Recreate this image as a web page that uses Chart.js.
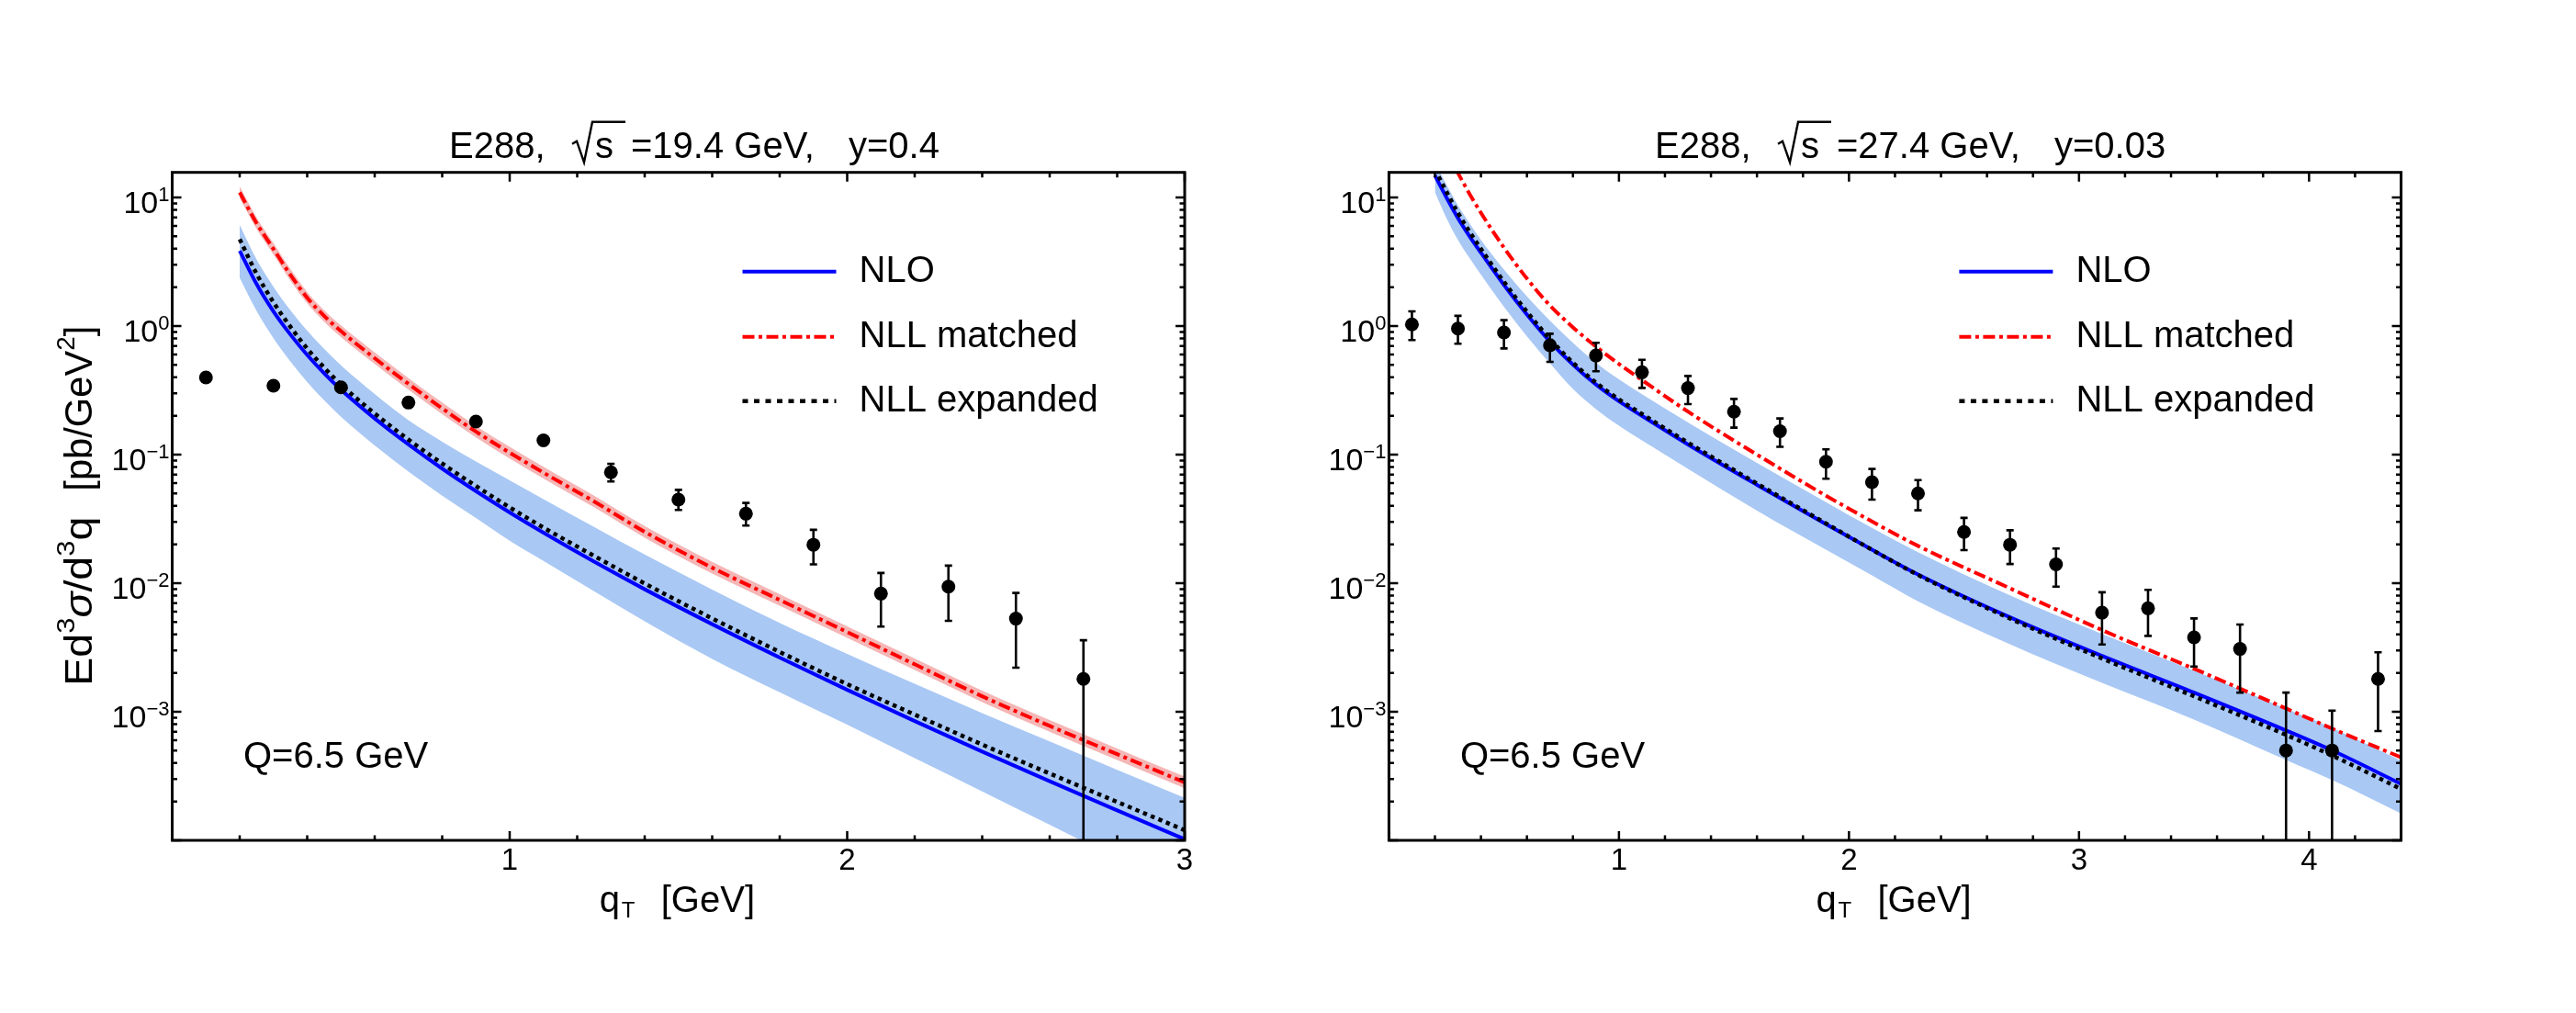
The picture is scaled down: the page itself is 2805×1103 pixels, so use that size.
<!DOCTYPE html>
<html>
<head>
<meta charset="utf-8">
<title>E288 q_T spectra</title>
<script src="https://cdn.jsdelivr.net/npm/chart.js@4.4.1/dist/chart.umd.min.js"></script>
<style>
  html, body { margin: 0; padding: 0; background: #fff; }
  #wrap { position: relative; width: 2805px; height: 1103px; background: #fff; }
  #wrap canvas { position: absolute; top: 0; }
</style>
</head>
<body>
<div id="wrap">
  <canvas id="left" width="1400" height="1103" style="left:0"></canvas>
  <canvas id="right" width="1405" height="1103" style="left:1400px"></canvas>
</div>
<script>
// ---- values ----

// left panel: sqrt(s) = 19.4 GeV, y = 0.4
const qtThL = [0.2, 0.25, 0.3, 0.35, 0.4, 0.45, 0.5, 0.6, 0.7, 0.8, 0.9, 1.0, 1.1, 1.25, 1.4, 1.6, 1.8, 2.0, 2.2, 2.4, 2.6, 2.8, 3.0];
const nloL    = [3.85, 2.12, 1.30, 0.861, 0.596, 0.430, 0.320, 0.191, 0.120, 0.0778, 0.0520, 0.0355, 0.0247, 0.0147, 0.00897, 0.00480, 0.00264, 0.00148, 8.47e-4, 4.90e-4, 2.88e-4, 1.71e-4, 1.02e-4];
const nloHiL  = [6.10, 3.29, 2.02, 1.33, 0.923, 0.665, 0.495, 0.296, 0.185, 0.126, 0.0883, 0.0631, 0.0450, 0.0274, 0.0167, 0.00893, 0.00491, 0.00282, 0.00165, 9.77e-4, 5.89e-4, 3.53e-4, 2.14e-4];
const nloLoL  = [2.37, 1.31, 0.804, 0.531, 0.367, 0.265, 0.197, 0.118, 0.0738, 0.0480, 0.0321, 0.0214, 0.0149, 0.00865, 0.00505, 0.00258, 0.00142, 7.94e-4, 4.35e-4, 2.40e-4, 1.32e-4, 7.29e-5, 4.27e-5];
const nllMatL   = [10.96, 6.31, 3.98, 2.51, 1.66, 1.20, 0.912, 0.562, 0.355, 0.229, 0.151, 0.1035, 0.0724, 0.0432, 0.0251, 0.0132, 0.00741, 0.00417, 0.00234, 0.00132, 7.76e-4, 4.68e-4, 2.82e-4];
const nllMatHiL = [12.16, 7.00, 4.41, 2.78, 1.84, 1.33, 1.011, 0.623, 0.394, 0.254, 0.167, 0.1148, 0.0803, 0.0479, 0.0278, 0.01464, 0.00822, 0.00462, 0.00260, 0.00146, 8.61e-4, 5.19e-4, 3.13e-4];
const nllMatLoL = [9.88, 5.69, 3.59, 2.26, 1.50, 1.08, 0.822, 0.507, 0.320, 0.206, 0.136, 0.0933, 0.0653, 0.0390, 0.0226, 0.0119, 0.00668, 0.00376, 0.00211, 0.00119, 7.00e-4, 4.22e-4, 2.54e-4];
const nllExpL   = [4.73, 2.55, 1.53, 0.989, 0.668, 0.476, 0.351, 0.209, 0.131, 0.0853, 0.0570, 0.0389, 0.0271, 0.0163, 0.00995, 0.00532, 0.00292, 0.00164, 9.51e-4, 5.56e-4, 3.31e-4, 1.99e-4, 1.20e-4];

const qtDataL  = [0.1, 0.3, 0.5, 0.7, 0.9, 1.1, 1.3, 1.5, 1.7, 1.9, 2.1, 2.3, 2.5, 2.7];
const sigmaL   = [0.398, 0.343, 0.334, 0.254, 0.181, 0.129, 0.0728, 0.0447, 0.0347, 0.0199, 0.0083, 0.0094, 0.0053, 0.0018];
const sigmaHiL = [0.41, 0.353, 0.344, 0.262, 0.187, 0.135, 0.0848, 0.0532, 0.0421, 0.0260, 0.0120, 0.0137, 0.0084, 0.0036];
const sigmaLoL = [0.386, 0.333, 0.324, 0.246, 0.175, 0.123, 0.0618, 0.0371, 0.0281, 0.0140, 0.0046, 0.0051, 0.0022, 1e-6];

// right panel: sqrt(s) = 27.4 GeV, y = 0.03
const qtThR = [0.2, 0.25, 0.3, 0.35, 0.4, 0.5, 0.6, 0.7, 0.8, 0.9, 1.0, 1.1, 1.3, 1.6, 1.9, 2.1, 2.3, 2.7, 3.1, 3.5, 3.9, 4.1, 4.4];
const nloR    = [14.8, 10.0, 6.92, 5.01, 3.72, 2.09, 1.23, 0.759, 0.501, 0.351, 0.260, 0.200, 0.120, 0.0582, 0.0288, 0.0182, 0.0117, 0.00543, 0.00272, 0.00141, 7.16e-4, 5.01e-4, 2.75e-4];
const nloHiR  = [18.6, 12.6, 8.71, 6.31, 4.68, 2.75, 1.70, 1.10, 0.741, 0.519, 0.385, 0.295, 0.178, 0.0861, 0.0427, 0.0269, 0.0174, 0.00804, 0.00403, 0.00209, 0.00106, 7.50e-4, 4.17e-4];
const nloLoR  = [11.0, 6.92, 4.68, 3.39, 2.51, 1.41, 0.832, 0.513, 0.324, 0.226, 0.168, 0.129, 0.0776, 0.0367, 0.0182, 0.0115, 0.00724, 0.00335, 0.00168, 8.71e-4, 4.22e-4, 2.95e-4, 1.62e-4];
const nllMatR = [35.5, 22.9, 15.5, 10.7, 7.59, 4.07, 2.34, 1.445, 0.977, 0.692, 0.507, 0.380, 0.216, 0.100, 0.0479, 0.0302, 0.0195, 0.00912, 0.00432, 0.00216, 0.00106, 7.41e-4, 4.42e-4];
const nllExpR = [16.6, 11.1, 7.59, 5.43, 3.98, 2.21, 1.29, 0.794, 0.519, 0.363, 0.269, 0.207, 0.124, 0.0596, 0.0292, 0.0182, 0.0116, 0.00531, 0.00260, 0.00132, 6.61e-4, 4.57e-4, 2.51e-4];

const qtDataR  = [0.1, 0.3, 0.5, 0.7, 0.9, 1.1, 1.3, 1.5, 1.7, 1.9, 2.1, 2.3, 2.5, 2.7, 2.9, 3.1, 3.3, 3.5, 3.7, 3.9, 4.1, 4.3];
const sigmaR   = [1.03, 0.957, 0.891, 0.708, 0.59, 0.437, 0.329, 0.216, 0.152, 0.088, 0.061, 0.0499, 0.025, 0.0199, 0.014, 0.0059, 0.00638, 0.00379, 0.00308, 0.0005, 0.0005, 0.0018];
const sigmaHiR = [1.30, 1.20, 1.11, 0.871, 0.74, 0.547, 0.409, 0.271, 0.191, 0.110, 0.0773, 0.0634, 0.0322, 0.0258, 0.0186, 0.0085, 0.00887, 0.00532, 0.00477, 0.00141, 0.00102, 0.0029];
const sigmaLoR = [0.778, 0.728, 0.67, 0.526, 0.445, 0.33, 0.247, 0.162, 0.115, 0.065, 0.0447, 0.0369, 0.0181, 0.0141, 0.0094, 0.00334, 0.00389, 0.00225, 0.00141, 1e-6, 1e-6, 7.08e-4];

// axes and labels
const xTicksL = [1, 2, 3];
const xTicksR = [1, 2, 3, 4];
const yPowers = [1, 0, -1, -2, -3];
const titleL = ['=19.4 GeV,', 'y=0.4'];
const titleR = ['=27.4 GeV,', 'y=0.03'];
const qLabel = 'Q=6.5 GeV';

// ---- styling ----
const FONT = '"Liberation Sans", Arial, Helvetica, sans-serif';
const BLUE = '#0000ff';
const RED = '#ff0000';
const BAND_BLUE = '#a9c8f4';
const BAND_RED = '#f5b6b6';
const DASH_DOT = [13, 4.5, 4, 4.5];
const DOTTED = [4.5, 4.5];

const f = (px, st) => (st ? st + ' ' : '') + px + 'px ' + FONT;

function drawParts(ctx, parts, x, y) {
    let cx = x;
    for (const [t, px, dy, st] of parts) {
        ctx.font = f(px, st);
        ctx.fillText(t, cx, y + (dy || 0));
        cx += ctx.measureText(t).width;
    }
    return cx - x;
}

function partsWidth(ctx, parts) {
    let w = 0;
    for (const [t, px, , st] of parts) {
        ctx.font = f(px, st);
        w += ctx.measureText(t).width;
    }
    return w;
}

// frame, inward ticks, labels, error bars and the in-plot legend
const paperFrame = {
    id: 'paperFrame',
    afterDatasetsDraw(chart, args, o) {
        const ctx = chart.ctx;
        const a = chart.chartArea;
        const xs = chart.scales.x, ys = chart.scales.y;

        // error bars
        ctx.save();
        ctx.beginPath();
        ctx.rect(a.left, a.top, a.right - a.left, a.bottom - a.top);
        ctx.clip();
        ctx.strokeStyle = '#000';
        ctx.lineWidth = 2.6;
        o.errX.forEach((v, i) => {
            const px = xs.getPixelForValue(v);
            const top = ys.getPixelForValue(o.errHi[i]);
            const bot = ys.getPixelForValue(o.errLo[i]);
            ctx.beginPath();
            ctx.moveTo(px, top); ctx.lineTo(px, bot);
            ctx.moveTo(px - 4, top); ctx.lineTo(px + 4, top);
            ctx.moveTo(px - 4, bot); ctx.lineTo(px + 4, bot);
            ctx.stroke();
        });
        ctx.restore();

        ctx.save();
        ctx.strokeStyle = '#000';
        ctx.fillStyle = '#000';

        // frame
        ctx.lineWidth = 3;
        ctx.strokeRect(a.left, a.top, a.right - a.left, a.bottom - a.top);

        // ticks, all pointing inwards
        ctx.lineWidth = 2.5;
        ctx.beginPath();
        const nx = Math.round(xs.max / 0.2);
        for (let i = 0; i <= nx; i++) {
            const v = i * 0.2;
            const px = xs.getPixelForValue(v);
            const len = Math.abs(v - Math.round(v)) < 1e-6 ? 10 : 5.5;
            ctx.moveTo(px, a.bottom); ctx.lineTo(px, a.bottom - len);
            ctx.moveTo(px, a.top); ctx.lineTo(px, a.top + len);
        }
        for (let k = -4; k <= 1; k++) {
            for (let m = 1; m <= 9; m++) {
                const v = m * Math.pow(10, k);
                if (v < ys.min * 0.999 || v > ys.max) continue;
                const py = ys.getPixelForValue(v);
                const len = m === 1 ? 10 : 5.5;
                ctx.moveTo(a.left, py); ctx.lineTo(a.left + len, py);
                ctx.moveTo(a.right, py); ctx.lineTo(a.right - len, py);
            }
        }
        ctx.stroke();

        // tick labels
        ctx.textBaseline = 'alphabetic';
        ctx.textAlign = 'center';
        ctx.font = f(33);
        o.xTicks.forEach(t => ctx.fillText(String(t), xs.getPixelForValue(t), a.bottom + 32));
        ctx.textAlign = 'left';
        o.yPowers.forEach(k => {
            const py = ys.getPixelForValue(Math.pow(10, k));
            const exp = k < 0 ? '\u2212' + (-k) : String(k);
            const parts = [['10', 34, 17], [exp, 22, 4]];
            const w = partsWidth(ctx, parts);
            drawParts(ctx, parts, a.left - 3 - w, py);
        });

        // title with sqrt(s)
        const tb = a.top - 16;
        const tx = a.left + o.titleX;
        ctx.font = f(40);
        ctx.fillText('E288,', tx, tb);
        const rx = tx + 134;
        ctx.lineWidth = 2.4;
        ctx.beginPath();
        ctx.moveTo(rx, tb - 15);
        ctx.lineTo(rx + 5, tb - 18);
        ctx.lineTo(rx + 13, tb + 5);
        ctx.lineTo(rx + 22, tb - 39);
        ctx.lineTo(rx + 58, tb - 39);
        ctx.stroke();
        ctx.fillText('s', rx + 25, tb);
        ctx.fillText(o.title[0], tx + 198, tb);
        ctx.fillText(o.title[1], tx + 435, tb);

        // x axis title
        const cx = (a.left + a.right) / 2 - 86;
        drawParts(ctx, [['q', 40]], cx, a.bottom + 78);
        drawParts(ctx, [['T', 24]], cx + 24, a.bottom + 84);
        drawParts(ctx, [['[GeV]', 40]], cx + 67, a.bottom + 78);

        // y axis title (left panel only)
        if (o.yTitle) {
            ctx.save();
            ctx.translate(a.left - 87.5, a.top + 559);
            ctx.rotate(-Math.PI / 2);
            const g1 = [['Ed', 42], ['3', 28, -19], ['\u03c3', 42, 0, 'italic'], ['/d', 42], ['3', 28, -19], ['q', 42]];
            const g2 = [['[pb/GeV', 42], ['2', 28, -19], [']', 42]];
            const w1 = partsWidth(ctx, g1);
            ctx.save();
            ctx.scale(Math.min(1.25, 184 / w1), 1);
            drawParts(ctx, g1, 0, 0);
            ctx.restore();
            const w2 = partsWidth(ctx, g2);
            ctx.save();
            ctx.translate(212, 0);
            ctx.scale(Math.min(1.25, 180 / w2), 1);
            drawParts(ctx, g2, 0, 0);
            ctx.restore();
            ctx.restore();
        }

        // legend
        const rowY = [108, 179, 249];
        chart.data.datasets.filter(d => d.inLegend).forEach((ds, j) => {
            const ly = a.top + rowY[j];
            ctx.strokeStyle = ds.borderColor;
            ctx.lineWidth = ds.borderWidth;
            ctx.setLineDash(ds.legendDash || ds.borderDash || []);
            ctx.beginPath();
            ctx.moveTo(a.left + 621, ly);
            ctx.lineTo(a.left + 723, ly);
            ctx.stroke();
            ctx.setLineDash([]);
            ctx.font = f(40);
            ctx.fillText(ds.label, a.left + 748, ly + 11);
        });

        ctx.font = f(40);
        ctx.fillText(qLabel, a.left + 77.5, a.top + 648);
        ctx.restore();
    }
};

function pts(xs, ys) {
    return xs.map((x, i) => ({ x: x, y: ys[i] }));
}

function makeChart(id, p) {
    const edge = { borderWidth: 0, borderColor: 'rgba(0,0,0,0)', pointRadius: 0, cubicInterpolationMode: 'monotone' };
    const datasets = [
        Object.assign({}, edge, { label: 'NLO band low', data: pts(p.xTh, p.nloLo), fill: false, order: 9 }),
        Object.assign({}, edge, { label: 'NLO band high', data: pts(p.xTh, p.nloHi), fill: '-1', backgroundColor: BAND_BLUE, order: 8 })
    ];
    if (p.matLo) {
        datasets.push(Object.assign({}, edge, { label: 'matched band low', data: pts(p.xTh, p.matLo), fill: false, order: 7 }));
        datasets.push(Object.assign({}, edge, { label: 'matched band high', data: pts(p.xTh, p.matHi), fill: '-1', backgroundColor: BAND_RED, order: 6 }));
    }
    datasets.push({
        label: 'NLO', inLegend: true, data: pts(p.xTh, p.nlo), fill: false, order: 4,
        borderColor: BLUE, borderWidth: 4, pointRadius: 0, cubicInterpolationMode: 'monotone'
    });
    datasets.push({
        label: 'NLL matched', inLegend: true, data: pts(p.xTh, p.mat), fill: false, order: 5,
        borderColor: RED, borderWidth: 4, borderDash: DASH_DOT, pointRadius: 0, cubicInterpolationMode: 'monotone'
    });
    datasets.push({
        label: 'NLL expanded', inLegend: true, legendDash: [6, 6.5], data: pts(p.xTh, p.exp), fill: false, order: 3,
        borderColor: '#000', borderWidth: 4.5, borderDash: DOTTED, pointRadius: 0, cubicInterpolationMode: 'monotone'
    });
    datasets.push({
        label: 'E288 data', data: pts(p.xData, p.yData), fill: false, order: 0, showLine: false,
        borderColor: '#000', pointRadius: 7.5, pointBackgroundColor: '#000', pointBorderWidth: 0
    });

    return new Chart(document.getElementById(id), {
        type: 'line',
        data: { datasets: datasets },
        plugins: [paperFrame],
        options: {
            responsive: false,
            animation: false,
            events: [],
            clip: 0,
            layout: { padding: p.padding },
            scales: {
                x: { type: 'linear', min: 0, max: p.xMax, display: false },
                y: { type: 'logarithmic', min: 1e-4, max: 15.67, bounds: 'data', display: false }
            },
            plugins: {
                legend: { display: false },
                tooltip: { enabled: false },
                paperFrame: {
                    errX: p.xData, errHi: p.yHi, errLo: p.yLo,
                    xTicks: p.xTicks, yPowers: yPowers,
                    title: p.title, titleX: p.titleX, yTitle: p.yTitle
                }
            }
        }
    });
}

makeChart('left', {
    xTh: qtThL, nlo: nloL, nloHi: nloHiL, nloLo: nloLoL,
    mat: nllMatL, matHi: nllMatHiL, matLo: nllMatLoL, exp: nllExpL,
    xData: qtDataL, yData: sigmaL, yHi: sigmaHiL, yLo: sigmaLoL,
    xMax: 3, xTicks: xTicksL, title: titleL, titleX: 301.5, yTitle: true,
    padding: { left: 187.5, right: 110, top: 187.7, bottom: 188 }
});

makeChart('right', {
    xTh: qtThR, nlo: nloR, nloHi: nloHiR, nloLo: nloLoR,
    mat: nllMatR, exp: nllExpR,
    xData: qtDataR, yData: sigmaR, yHi: sigmaHiR, yLo: sigmaLoR,
    xMax: 4.4, xTicks: xTicksR, title: titleR, titleX: 289.6, yTitle: false,
    padding: { left: 112.4, right: 190.5, top: 187.7, bottom: 188 }
});
</script>
</body>
</html>
